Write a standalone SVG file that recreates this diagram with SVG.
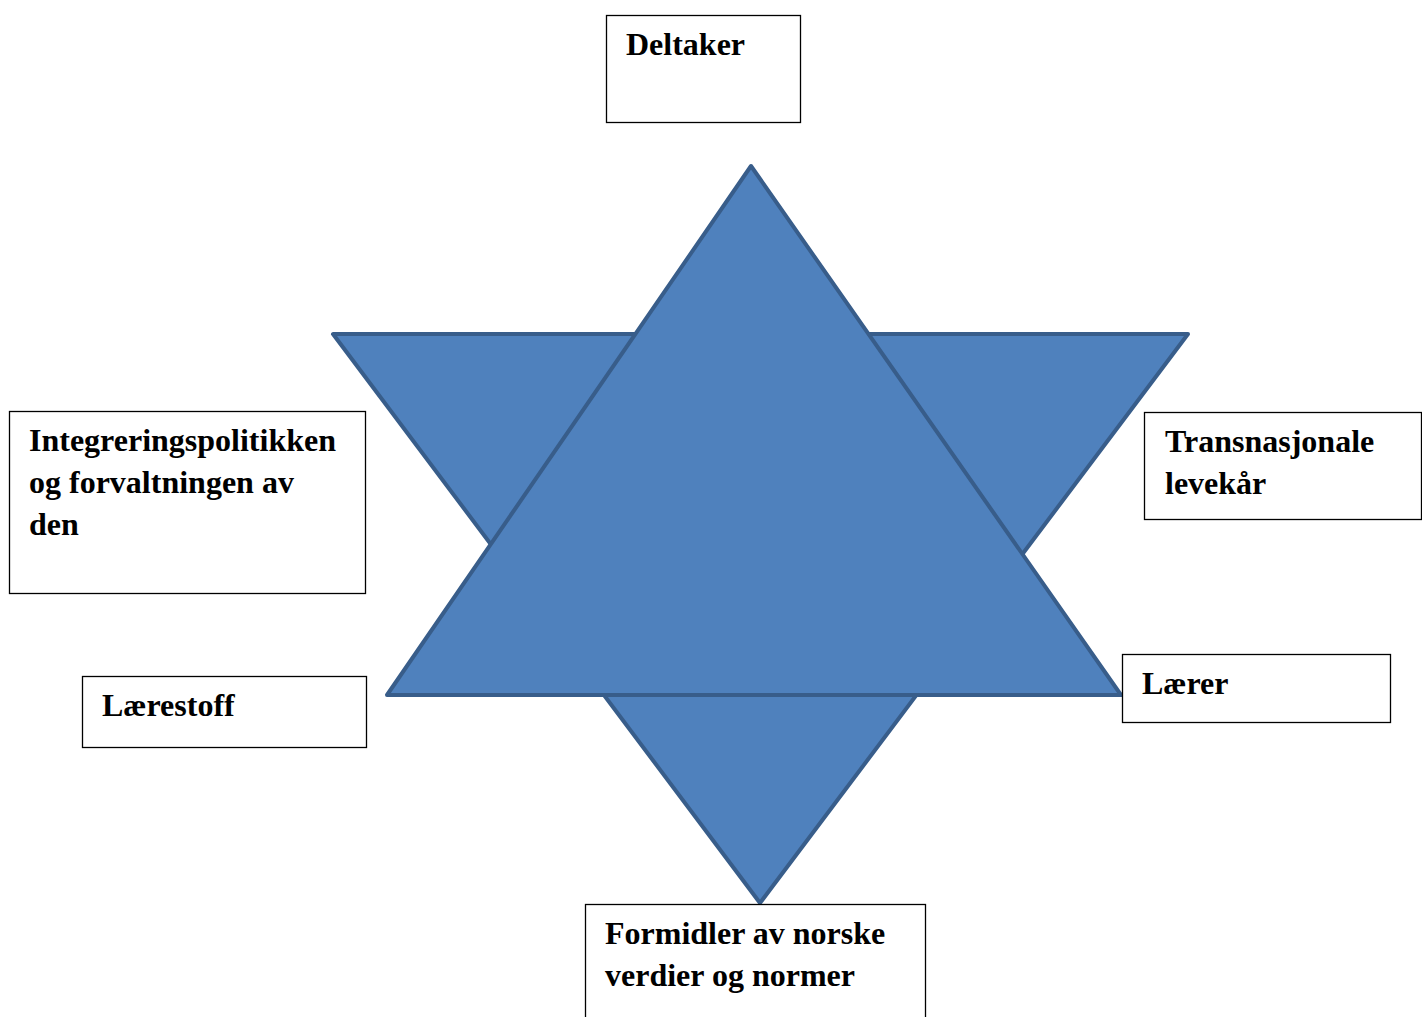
<svg xmlns="http://www.w3.org/2000/svg" width="1422" height="1017" viewBox="0 0 1422 1017">
<style>
.tri{fill:#4F81BD;stroke:#385D8A;stroke-width:4;stroke-linejoin:round}
.box{fill:#fff;stroke:#000;stroke-width:1.3}
.t{font-family:"Liberation Serif","Times New Roman",serif;font-weight:bold;font-size:32px;fill:#000}
</style>
<rect width="1422" height="1017" fill="#fff"/>
<g id="star">
<polygon class="tri" points="333,334 1188,334 760,903"/>
<polygon class="tri" points="751,166 1121,695 387,695"/>
</g>
<g id="connectors"></g>
<g id="deltaker"><rect class="box" x="606.5" y="15.5" width="194" height="107"/><text class="t" x="626" y="55">Deltaker</text></g>
<g id="integrering"><rect class="box" x="9.5" y="411.5" width="356" height="182"/><text class="t" x="29" y="451">Integreringspolitikken</text><text class="t" x="29" y="493">og forvaltningen av</text><text class="t" x="29" y="535">den</text></g>
<g id="transnasjonale"><rect class="box" x="1144.5" y="412.5" width="277" height="107"/><text class="t" x="1165" y="452">Transnasjonale</text><text class="t" x="1165" y="494">levekår</text></g>
<g id="laerestoff"><rect class="box" x="82.5" y="676.5" width="284" height="71"/><text class="t" x="102" y="716">Lærestoff</text></g>
<g id="laerer"><rect class="box" x="1122.5" y="654.5" width="268" height="68"/><text class="t" x="1142" y="694">Lærer</text></g>
<g id="formidler"><rect class="box" x="585.5" y="904.5" width="340" height="120"/><text class="t" x="605" y="944">Formidler av norske</text><text class="t" x="605" y="986">verdier og normer</text></g>
</svg>
